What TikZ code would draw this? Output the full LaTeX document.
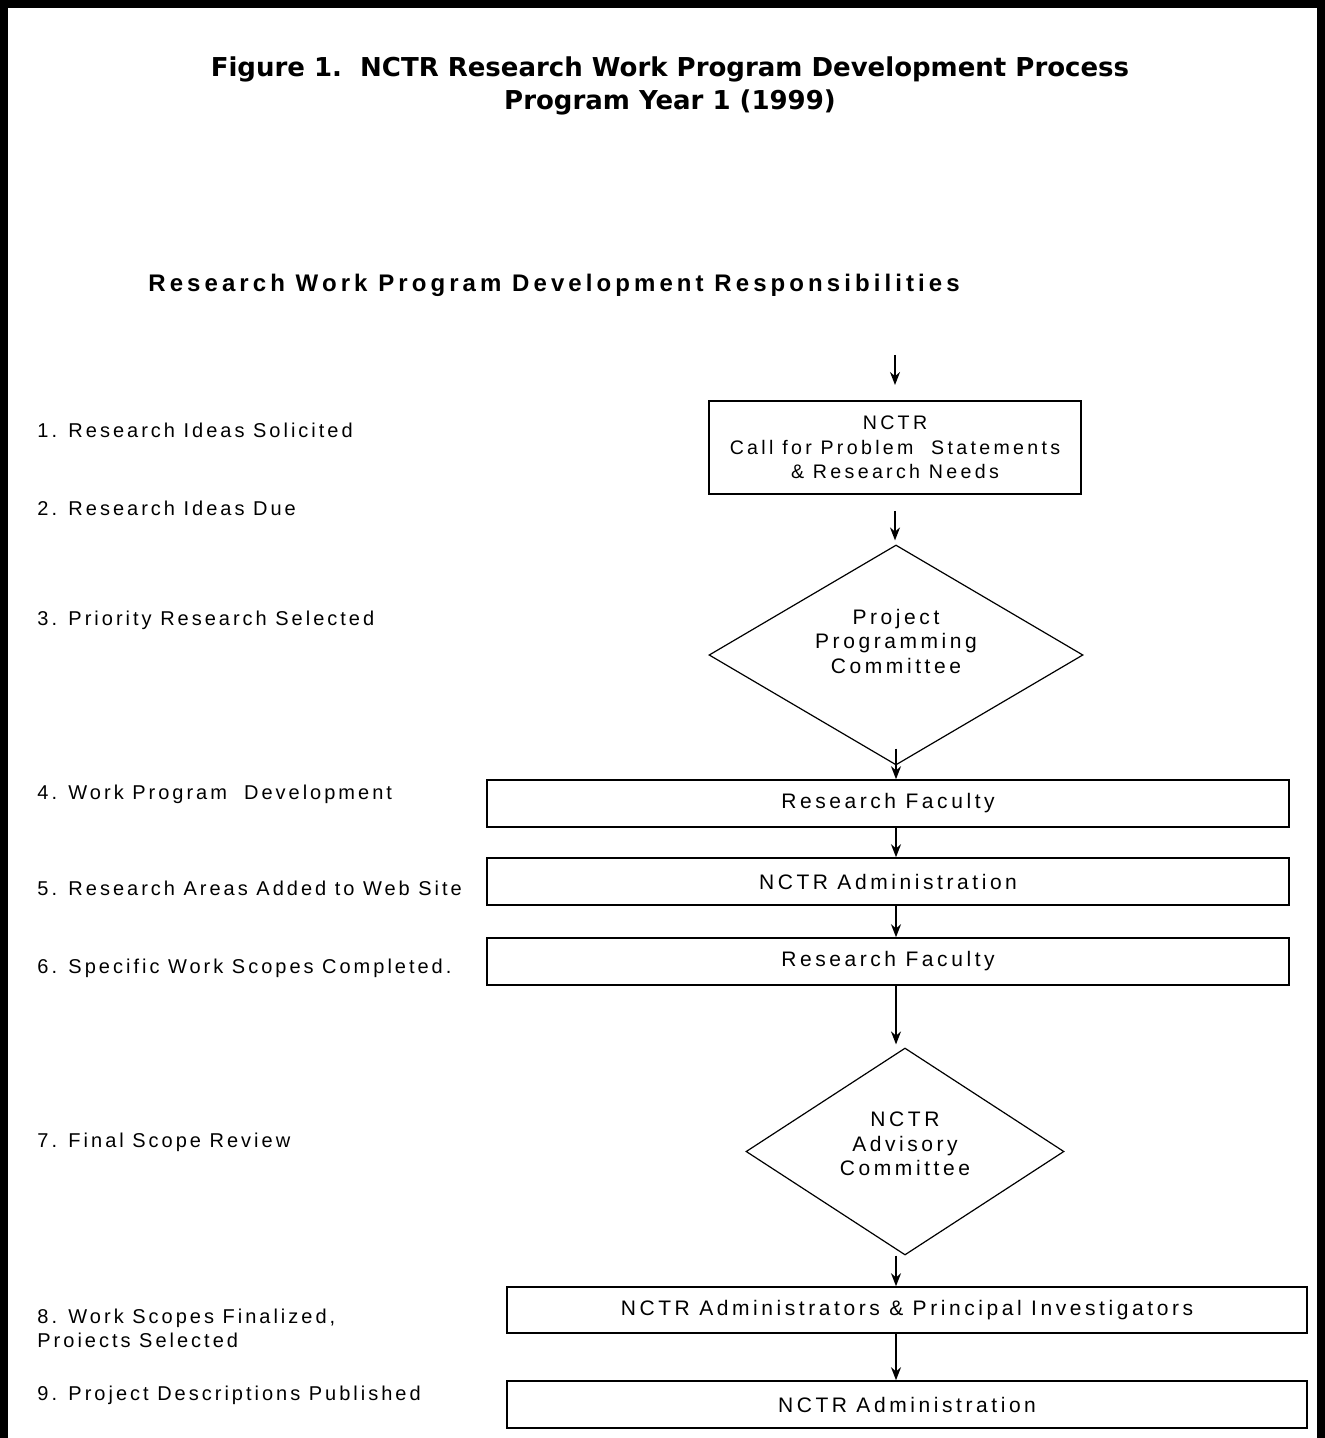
\documentclass[tikz,border=0pt]{standalone}
\usepackage{fontspec}
\setmainfont{Liberation Sans}
\newfontfamily\flowfont{Liberation Sans}[LetterSpace=17]
\newfontfamily\labelfont{Liberation Sans}[LetterSpace=15]
\newfontfamily\headfont{Liberation Sans}[LetterSpace=17]
\newfontfamily\titlefont{DejaVu Sans}
\usetikzlibrary{
  positioning,
  arrows.meta,
  shapes.geometric
}
\tikzset{
  flowtext/.style  = {align=center, inner sep=0pt,
                      font=\flowfont\fontsize{10.5}{12.25}\selectfont},
  stepbox/.style   = {rectangle, draw=black, line width=0.8pt, fill=white,
                      flowtext},
  widebox/.style   = {stepbox, minimum width=401pt, minimum height=23.5pt},
  review/.style    = {diamond, draw=black, line width=0.6pt, fill=white,
                      inner sep=0pt},
  flow/.style      = {-{Stealth[length=6.5pt, width=5pt]}, line width=0.8pt},
  steplabel/.style = {anchor=west, align=left, inner sep=0pt,
                      font=\labelfont\fontsize{10}{12}\selectfont}
}
\begin{document}
\begin{tikzpicture}[x=0.5pt, y=-0.5pt]
  \useasboundingbox (0,0) rectangle (1325,1438);
  % Frame (bottom edge cut off)
  \draw[line width=4pt] (4,1438) -- (4,4) -- (1321,4) -- (1321,1438);
  % Titles
  \node[font=\titlefont\bfseries\fontsize{13}{16.5}\selectfont, align=center]
       (title) at (670,86) {Figure 1.\ \ NCTR Research Work Program Development Process\\
                            Program Year 1 (1999)};
  \node[anchor=west, inner sep=0pt, font=\headfont\bfseries\fontsize{12}{13}\selectfont]
       (heading) at (148,285) {Research Work Program Development Responsibilities};
  % Step labels on the left
  \foreach \i/\y/\txt in {
      1/430/{1. Research Ideas Solicited},
      2/508/{2. Research Ideas Due},
      3/620/{3. Priority Research Selected},
      4/794/{4. Work Program\ \ Development},
      5/888/{5. Research Areas Added to Web Site},
      6/968/{6. Specific Work Scopes Completed.},
      7/1142/{7. Final Scope Review},
      8/1328/{8. Work Scopes Finalized,\\Proiects Selected},
      9/1395/{9. Project Descriptions Published}}{
    \node[steplabel] (lbl\i) at (37,\y) {\txt};
  }
  % Flow chart
  \coordinate (entry) at (895,355);
  \coordinate (entryEnd) at (895,385);
  \node[stepbox, minimum width=186pt, minimum height=46.5pt,
        font=\flowfont\fontsize{9.8}{12.25}\selectfont]
       (call) at (895,447.5) {NCTR\\Call for Problem\ \ Statements\\\& Research Needs};
  \node[review, minimum width=187pt, minimum height=110pt] (ppc) at (896,655) {};
  \node[flowtext] (ppcText) at (896,641) {Project\\Programming\\Committee};
  \node[widebox] (faculty1) at (888,803.5) {Research Faculty};
  \node[widebox] (admin1)   at (888,881.5) {NCTR Administration};
  \node[widebox] (faculty2) at (888,961.5) {Research Faculty};
  \node[review, minimum width=159pt, minimum height=103.5pt] (nac) at (905,1151.5) {};
  \node[flowtext] (nacText) at (905,1144) {NCTR\\Advisory\\Committee};
  \node[widebox, minimum width=400pt, minimum height=23pt]
       (adminPI) at (907,1310) {NCTR Administrators \& Principal Investigators};
  \node[widebox, minimum width=400pt, minimum height=23.5pt]
       (admin2)  at (907,1404.5) {NCTR Administration};
  % Connectors
  \draw[flow] (entry) -- (entryEnd);
  \draw[flow, shorten <=8pt, shorten >=2pt] (call.south) -- (ppc.north -| call.south);
  \draw[flow, shorten <=-8.5pt] (ppc.south) -- (faculty1.north -| ppc.south);
  \draw[flow] (faculty1.south -| ppc.south) -- (admin1.north -| ppc.south);
  \draw[flow] (admin1.south -| ppc.south) -- (faculty2.north -| ppc.south);
  \draw[flow, shorten >=1.5pt] (faculty2.south -| ppc.south) -- (nac.north -| ppc.south);
  \draw[flow] (nac.south -| ppc.south) -- (adminPI.north -| ppc.south);
  \draw[flow] (adminPI.south -| ppc.south) -- (admin2.north -| ppc.south);
\end{tikzpicture}
\end{document}
